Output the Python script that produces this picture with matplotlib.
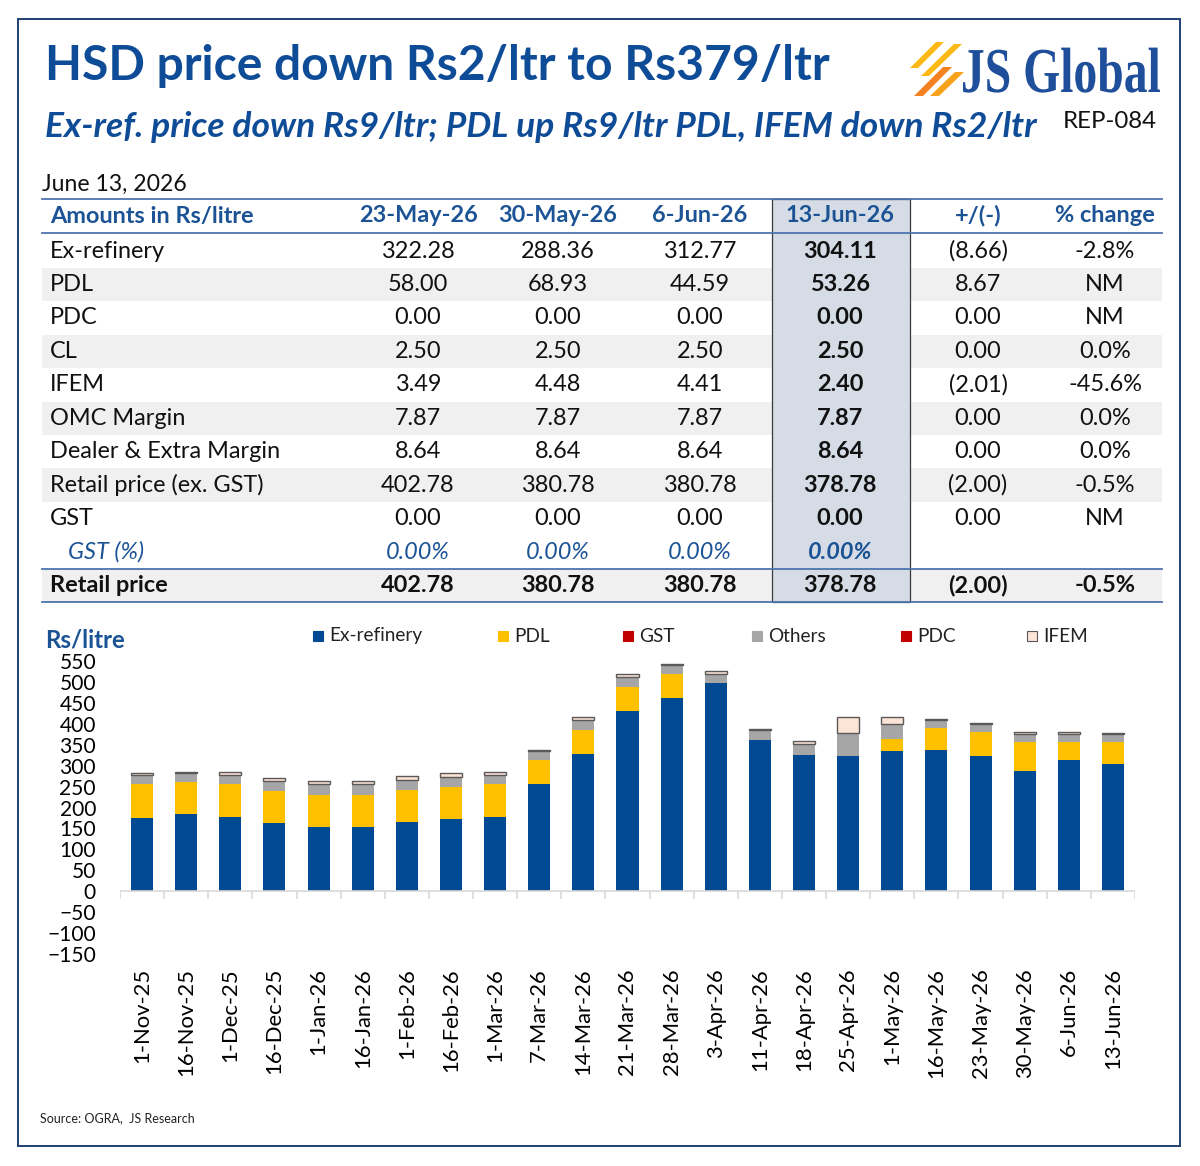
import numpy as np
import matplotlib
matplotlib.use("Agg")
import matplotlib.pyplot as plt
from matplotlib.patches import Rectangle, Polygon, PathPatch
from matplotlib.textpath import TextPath
from matplotlib.font_manager import FontProperties
from matplotlib.transforms import Affine2D

plt.rcParams['font.family'] = ['Lato', 'DejaVu Sans']

# ---- chart data (Rs/litre) ----
dates = ['1-Nov-25', '16-Nov-25', '1-Dec-25', '16-Dec-25', '1-Jan-26', '16-Jan-26',
         '1-Feb-26', '16-Feb-26', '1-Mar-26', '7-Mar-26', '14-Mar-26', '21-Mar-26',
         '28-Mar-26', '3-Apr-26', '11-Apr-26', '18-Apr-26', '25-Apr-26', '1-May-26',
         '16-May-26', '23-May-26', '30-May-26', '6-Jun-26', '13-Jun-26']
ex_ref = [175, 184, 178, 163, 154, 154, 165, 172, 178, 256, 329, 431, 461, 497,
          361, 326, 323, 335, 337, 322.28, 288.36, 312.77, 304.11]
pdl = [80, 77, 77, 77, 77, 77, 77, 78, 77, 57, 57, 58, 57, 0,
       0, 0, 0, 29, 53, 58.00, 68.93, 44.59, 53.26]
gst = [0] * 23
others = [22, 22, 22, 24, 24, 24, 24, 23, 23, 22, 23, 22, 22, 23,
          23, 25, 56, 35, 19, 19.01, 19.01, 19.01, 19.01]
pdc = [0] * 23
ifem = [6, 3, 7, 7, 8, 8, 9, 9, 8, 3, 8, 8, 4, 6,
        4, 8, 38, 17, 2, 3.49, 4.48, 4.41, 2.40]

# ---- table data ----
row_labels = ['Ex-refinery', 'PDL', 'PDC', 'CL', 'IFEM', 'OMC Margin',
              'Dealer & Extra Margin', 'Retail price (ex. GST)', 'GST', 'GST (%)',
              'Retail price']
col_heads = ['23-May-26', '30-May-26', '6-Jun-26', '13-Jun-26', '+/(-)', '% change']
may23 = ['322.28', '58.00', '0.00', '2.50', '3.49', '7.87', '8.64', '402.78', '0.00', '0.00%', '402.78']
may30 = ['288.36', '68.93', '0.00', '2.50', '4.48', '7.87', '8.64', '380.78', '0.00', '0.00%', '380.78']
jun6 = ['312.77', '44.59', '0.00', '2.50', '4.41', '7.87', '8.64', '380.78', '0.00', '0.00%', '380.78']
jun13 = ['304.11', '53.26', '0.00', '2.50', '2.40', '7.87', '8.64', '378.78', '0.00', '0.00%', '378.78']
change = ['(8.66)', '8.67', '0.00', '0.00', '(2.01)', '0.00', '0.00', '(2.00)', '0.00', '', '(2.00)']
pct_change = ['-2.8%', 'NM', 'NM', '0.0%', '-45.6%', '0.0%', '0.0%', '-0.5%', 'NM', '', '-0.5%']

BLUE = '#0F4C97'
HEAD = '#1B5395'
LINE = '#4C74AC'
PX = 0.72  # pixel -> point at dpi 100
TS = 23.5 * PX  # table text size

fig = plt.figure(figsize=(12, 11.66), dpi=100)

# full-figure layer in pixel coordinates for the text and table
bg = fig.add_axes([0, 0, 1, 1])
bg.set_xlim(0, 1200)
bg.set_ylim(1166, 0)
bg.axis('off')

bg.add_patch(Rectangle((18, 19), 1162, 1127, fill=False, ec='#1F3F73', lw=1.4))

bg.text(45, 66, 'HSD price down Rs2/ltr to Rs379/ltr', fontsize=48 * PX,
        fontweight='bold', color=BLUE, va='center')
bg.text(45, 127, 'Ex-ref. price down Rs9/ltr; PDL up Rs9/ltr PDL, IFEM down Rs2/ltr',
        fontsize=35.4 * PX, fontweight='bold', style='italic', color=BLUE, va='center')
bg.text(1157, 122, 'REP-084', fontsize=24 * PX, color='#111111', ha='right', va='center')

# logo
for pts, col in [([(910, 68), (918, 68), (944, 42), (936, 42)], '#FDB913'),
                 ([(921, 76), (929, 76), (962, 44), (954, 44)], '#FDB913'),
                 ([(914, 96), (923, 96), (952, 67), (943, 67)], '#F58220'),
                 ([(930, 96), (939, 96), (964, 72), (955, 72)], '#F7A21B')]:
    bg.add_patch(Polygon(pts, closed=True, color=col, lw=0))
tp = TextPath((0, 0), 'JS Global', size=64,
              prop=FontProperties(family='Liberation Serif', weight='bold'))
ext = tp.get_extents()
sx = 197 / ext.width
tr = Affine2D().translate(-ext.x0, 0).scale(sx, -1).translate(963, 92)
bg.add_patch(PathPatch(tr.transform_path(tp), color='#1F4E9A', lw=0))

# table
bg.text(42, 184, 'June 13, 2026', fontsize=23 * PX, color='#111111', va='center')
x0, x1 = 42, 1162
head_y, row0, step = 216, 251, 33.45
shaded = {'PDL', 'CL', 'OMC Margin', 'Retail price (ex. GST)', 'Retail price'}
for i, lab in enumerate(row_labels):
    if lab in shaded:
        bg.add_patch(Rectangle((x0, row0 + i * step - step / 2), x1 - x0, step,
                               color='#F0F0F0', lw=0))
top_y = head_y - 17
bot_y = row0 + (len(row_labels) - 0.5) * step
bg.add_patch(Rectangle((772, top_y), 138, bot_y - top_y, fc='#D5DCE6',
                       ec='#3A3A3A', lw=0.9, zorder=2))
for yy in [top_y, head_y + 17, row0 + (len(row_labels) - 1.5) * step, bot_y]:
    bg.plot([x0, x1], [yy, yy], color=LINE, lw=1.3, zorder=3)

col_x = [418, 558, 700, 840, 978, 1105]
bg.text(50, head_y, 'Amounts in Rs/litre', fontsize=TS, fontweight='bold',
        color=HEAD, va='center')
for cx, h in zip(col_x, col_heads):
    bg.text(cx, head_y, h, fontsize=TS, fontweight='bold', color=HEAD,
            ha='center', va='center', zorder=4)

columns = [may23, may30, jun6, jun13, change, pct_change]
for i, lab in enumerate(row_labels):
    y = row0 + i * step
    last = lab == 'Retail price'
    italic = lab == 'GST (%)'
    col = HEAD if italic else '#111111'
    st = 'italic' if italic else 'normal'
    bg.text(68 if italic else 50, y, lab, fontsize=TS, color=col, style=st,
            fontweight='bold' if last else 'normal', va='center', zorder=4)
    for j, (cx, vals) in enumerate(zip(col_x, columns)):
        bold = last or j == 3
        bg.text(cx, y, vals[i], fontsize=TS, color=col, style=st,
                fontweight='bold' if bold else 'normal', ha='center', va='center',
                zorder=4)

bg.text(45, 640, 'Rs/litre', fontsize=24 * PX, fontweight='bold', color=HEAD,
        va='center')
bg.text(40, 1118, 'Source: OGRA,  JS Research', fontsize=12.5 * PX, color='#222222',
        va='center')

# ---- stacked bar chart ----
ax = fig.add_axes([120 / 1200, (1166 - 954) / 1166, 1015 / 1200, 293 / 1166])
x = np.arange(len(dates))
series = [('Ex-refinery', ex_ref, '#004A93', 'none'),
          ('PDL', pdl, '#FFC000', 'none'),
          ('GST', gst, '#C00000', 'none'),
          ('Others', others, '#A6A6A6', 'none'),
          ('PDC', pdc, '#C00000', 'none'),
          ('IFEM', ifem, '#FCE4D6', '#595959')]
bottom = np.zeros(len(dates))
for name, vals, c, ec in series:
    vals = np.array(vals, dtype=float)
    ax.bar(x, vals, 0.5, bottom=bottom, color=c, edgecolor=ec,
           linewidth=1.0 if ec != 'none' else 0, label=name)
    bottom += vals

ax.set_xlim(-0.5, len(dates) - 0.5)
ax.set_ylim(-150, 550)
ax.set_yticks(np.arange(-150, 551, 50))
ax.tick_params(axis='y', length=0, labelsize=21 * PX, pad=24 * PX)
ax.set_xticks(x)
ax.set_xticklabels(dates, rotation=90, fontsize=22 * PX)
ax.tick_params(axis='x', length=0, pad=14 * PX)
for s in ax.spines.values():
    s.set_visible(False)
ax.axhline(0, color='#D9D9D9', lw=1.2)
ax.vlines(np.arange(len(dates) + 1) - 0.5, -19, 0, color='#D9D9D9', lw=1.2)

leg_x = [318, 503, 628, 757, 906, 1032]
for (name, vals, c, ec), lx in zip(series, leg_x):
    bg.add_patch(Rectangle((lx - 5, 631), 10, 10, fc=c,
                           ec=ec if ec != 'none' else c, lw=0.8))
    bg.text(lx + 11, 636, name, fontsize=19 * PX, color='#222222', va='center')

fig.savefig('out.png', dpi=100)
